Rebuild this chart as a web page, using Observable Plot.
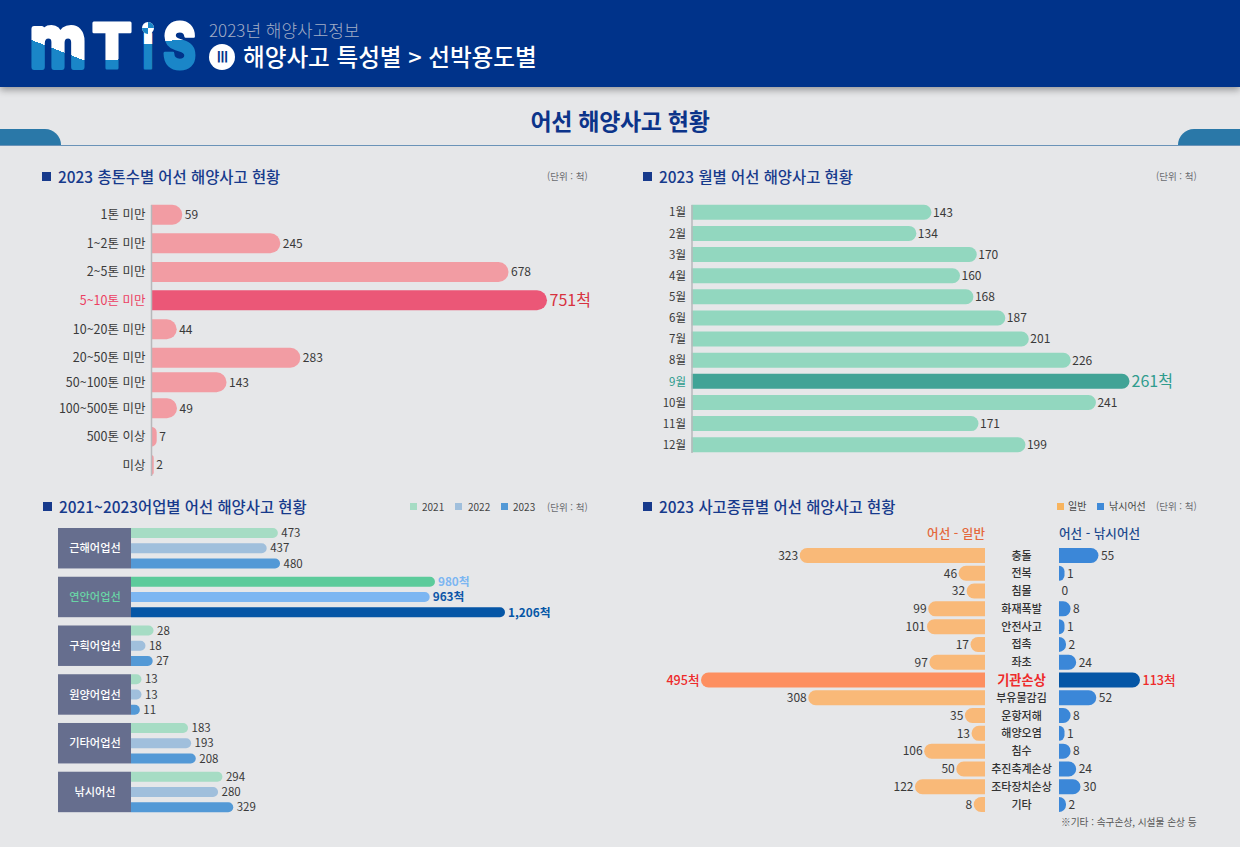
<!DOCTYPE html>
<html lang="ko"><head><meta charset="utf-8">
<script src="https://cdn.jsdelivr.net/npm/d3@7"></script>
<script src="https://cdn.jsdelivr.net/npm/@observablehq/plot@0.6"></script>
<style>
html,body{margin:0;padding:0;background:#e6e7e9;}
body{width:1240px;height:847px;position:relative;overflow:hidden;font-family:"Noto Sans CJK KR","Noto Sans",sans-serif;}
.abs{position:absolute;white-space:nowrap;}
#hdr{position:absolute;left:0;top:0;width:1240px;height:87px;background:#00338a;box-shadow:0 3px 7px rgba(0,0,0,.35);}
.sec{position:absolute;font-size:15.4px;font-weight:500;color:#173a8c;white-space:nowrap;line-height:20px;}
.sq{position:absolute;width:9px;height:9px;background:#173a8c;}
.unit{position:absolute;font-size:9.5px;color:#6a6c70;white-space:nowrap;line-height:14px;}
.lg{position:absolute;font-size:10px;color:#444;white-space:nowrap;line-height:14px;}
.ls{position:absolute;width:7px;height:7px;}
.plotbox{position:absolute;}
.plotbox svg{display:block;overflow:visible;}
</style></head><body>
<div id="hdr"></div>
<svg class="abs" style="left:0;top:0" width="208" height="87" id="logo"></svg>
<div class="abs" style="left:209px;top:19px;font-size:17px;font-weight:300;color:#a3aec6;line-height:22px">2023년 해양사고정보</div>
<div class="abs" style="left:209px;top:44px;width:26px;height:26px;border-radius:50%;background:#fff;color:#00338a;font-size:15px;font-weight:900;text-align:center;line-height:26px;font-family:'Liberation Serif',serif">Ⅲ</div>
<div class="abs" style="left:243px;top:40px;font-size:23.6px;font-weight:500;color:#fff;line-height:32px">해양사고 특성별 &gt; 선박용도별</div>
<div class="abs" style="left:0;width:1240px;top:103px;text-align:center;font-size:23px;font-weight:700;color:#0c348a;line-height:34px;letter-spacing:-.3px">어선 해양사고 현황</div>
<div class="abs" style="left:0;top:129px;width:61px;height:16px;background:#2a78a8;border-top-right-radius:16px 16px;"></div>
<div class="abs" style="left:1178px;top:129px;width:62px;height:16px;background:#2a78a8;border-top-left-radius:16px 16px;"></div>
<div class="abs" style="left:0;top:145px;width:1240px;height:1px;background:#6a93b8;"></div>

<div class="sq" style="left:42px;top:172px"></div><div class="sec" style="left:58px;top:166px">2023 총톤수별 어선 해양사고 현황</div><div class="unit" style="left:547px;top:169px">(단위 : 척)</div>
<div class="sq" style="left:643px;top:172px"></div><div class="sec" style="left:659px;top:166px">2023 월별 어선 해양사고 현황</div><div class="unit" style="left:1156px;top:169px">(단위 : 척)</div>
<div class="sq" style="left:43px;top:502px"></div><div class="sec" style="left:59px;top:495.5px">2021~2023어업별 어선 해양사고 현황</div>
<div class="ls" style="left:410px;top:503px;background:#a6dcc4"></div><div class="lg" style="left:422px;top:500px">2021</div>
<div class="ls" style="left:455px;top:503px;background:#a0bfdc"></div><div class="lg" style="left:468px;top:500px">2022</div>
<div class="ls" style="left:501px;top:503px;background:#5399d6"></div><div class="lg" style="left:513px;top:500px">2023</div>
<div class="unit" style="left:547px;top:500px">(단위 : 척)</div>
<div class="sq" style="left:643px;top:502px"></div><div class="sec" style="left:659px;top:495.5px">2023 사고종류별 어선 해양사고 현황</div>
<div class="ls" style="left:1057px;top:503px;background:#f8b45e"></div><div class="lg" style="left:1068px;top:499px">일반</div>
<div class="ls" style="left:1097px;top:503px;background:#3f8ad8"></div><div class="lg" style="left:1109px;top:499px">낚시어선</div>
<div class="unit" style="left:1156px;top:499px">(단위 : 척)</div>
<div class="abs" style="right:255px;top:524px;font-size:12.6px;font-weight:500;color:#e4683c;line-height:18px">어선 - 일반</div>
<div class="abs" style="left:1059px;top:524px;font-size:12.6px;font-weight:500;color:#1c4a8e;line-height:18px">어선 - 낚시어선</div>
<div class="abs" style="left:1061px;top:815px;font-size:9.7px;color:#555;line-height:14px">※기타 : 속구손상, 시설물 손상 등</div>

<script>
const tonnageLabels=["1톤 미만","1~2톤 미만","2~5톤 미만","5~10톤 미만","10~20톤 미만","20~50톤 미만","50~100톤 미만","100~500톤 미만","500톤 이상","미상"];
const tonnageValues=[59,245,678,751,44,283,143,49,7,2];
const monthLabels=["1월","2월","3월","4월","5월","6월","7월","8월","9월","10월","11월","12월"];
const monthValues=[143,134,170,160,168,187,201,226,261,241,171,199];
const fisheryLabels=["근해어업선","연안어업선","구획어업선","원양어업선","기타어업선","낚시어선"];
const years=["2021","2022","2023"];
const fishery2021=[473,980,28,13,183,294];
const fishery2022=[437,963,18,13,193,280];
const fishery2023=[480,1206,27,11,208,329];
const accidentLabels=["충돌","전복","침몰","화재폭발","안전사고","접촉","좌초","기관손상","부유물감김","운항저해","해양오염","침수","추진축계손상","조타장치손상","기타"];
const accidentGeneral=[323,46,32,99,101,17,97,495,308,35,13,106,50,122,8];
const accidentFishing=[55,1,0,8,1,2,24,113,52,8,1,8,24,30,2];

const FONT='"Noto Sans CJK KR","Noto Sans",sans-serif';
const AX="#b7b8bb", TXT="#3a3a3a";
function place(p,l,t){const d=document.createElement("div");d.className="plotbox";d.style.left=l+"px";d.style.top=t+"px";d.appendChild(p);document.body.appendChild(d);}
const base=(w,h)=>({width:w,height:h,marginTop:0,marginBottom:0,marginLeft:0,marginRight:0,style:{background:"transparent",fontFamily:FONT,fontSize:"12px",overflow:"visible"}});

// Logo
(function(){
 const svg=d3.select("#logo");const defs=svg.append("defs");
 const W="#ffffff",B="#1a86c8";
 function letter(id,ch,x,y,fs,len,g,sw,wt){
  const lg=defs.append("linearGradient").attr("id",id).attr("gradientUnits","userSpaceOnUse").attr("x1",g[0]).attr("y1",g[1]).attr("x2",g[2]).attr("y2",g[3]);
  lg.append("stop").attr("offset",0).attr("stop-color",W);lg.append("stop").attr("offset",0).attr("stop-color",B);
  svg.append("text").text(ch).attr("x",x).attr("y",y).attr("font-family","Inter").attr("font-weight",wt).attr("font-size",fs)
   .attr("textLength",len).attr("lengthAdjust","spacingAndGlyphs").attr("fill",`url(#${id})`).attr("stroke",`url(#${id})`).attr("stroke-width",sw).attr("stroke-linejoin","round");
 }
 letter("lm","m",30,67,69,56,[60,51,48,82],6,600);
 letter("lt","T",92,68,62,40,[110,60,112,90],3,800);
 letter("li","I",143,68,47,10,[145,44,145,90],3,800);
 letter("ls","S",163,68,62,33,[178,40,182,90],3,800);
 svg.append("circle").attr("cx",148).attr("cy",28).attr("r",6).attr("fill","#fff");
 svg.append("path").attr("d","M148 22A6 6 0 0 1 154 28L148 28Z M148 28L148 34A6 6 0 0 1 142 28Z").attr("fill",B);
})();

// Chart 1: tonnage. Rows follow a regular band; rowShift nudges rows that sit off it in the source.
// The source draws its smallest bars wider than proportional, hence the piecewise x scale.
(function(){
 const rowShift=[0,.8,1.7,2.2,3.4,4,.8,-1,-.4,.1];
 const hi="5~10톤 미만";
 const rowMarks=tonnageLabels.flatMap((k,i)=>{
  const d=[{k,v:tonnageValues[i]}],h=k===hi,dy=rowShift[i];
  return [
   Plot.barX(d,{x:"v",y:"k",dy,fill:h?"#eb5777":"#f29ca3",rx2:10}),
   Plot.text(d,{x:0,y:"k",dy,text:"k",textAnchor:"end",dx:-6,fill:h?"#ec3f62":TXT,fontSize:12.5}),
   Plot.text(d,{x:"v",y:"k",dy,text:h?(e=>e.v+"척"):"v",textAnchor:"start",dx:2,fill:h?"#d8323f":TXT,fontSize:h?16:12}),
  ];
 });
 place(Plot.plot({...base(560,290),
  x:{type:"linear",domain:[0,2,7,44,49,751],range:[111,113.7,116.7,136.7,137,507],axis:null},
  y:{domain:tonnageLabels,range:[9.7,279.9],paddingInner:.2806,paddingOuter:0,round:false,axis:null},
  marks:[...rowMarks,Plot.ruleX([0],{stroke:AX,strokeWidth:1.5,insetTop:10,insetBottom:9})]}),40,195);
})();

// Chart 2: months
(function(){
 const data=monthLabels.map((k,i)=>({k,v:monthValues[i]}));
 const hi="9월", isHi=d=>d.k===hi, no=d=>d.k!==hi;
 place(Plot.plot({...base(560,270),
  x:{domain:[0,261],range:[41.5,479.5],axis:null},
  y:{domain:monthLabels,range:[9.8,257.2],paddingInner:.29,paddingOuter:0,round:false,axis:null},
  marks:[
   Plot.barX(data.filter(no),{x:"v",y:"k",fill:"#92d7bf",rx2:7.5}),
   Plot.barX(data.filter(isHi),{x:"v",y:"k",fill:"#41a396",rx2:7.5}),
   Plot.ruleX([0],{stroke:AX,strokeWidth:1.5,insetTop:10,insetBottom:12}),
   Plot.text(data.filter(no),{x:0,y:"k",text:"k",textAnchor:"end",dx:-6,fill:TXT,fontSize:11.5}),
   Plot.text(data.filter(isHi),{x:0,y:"k",text:"k",textAnchor:"end",dx:-6,fill:"#2f9c8e",fontSize:11.5}),
   Plot.text(data.filter(no),{x:"v",y:"k",text:"v",textAnchor:"start",dx:1,fill:TXT,fontSize:12}),
   Plot.text(data.filter(isHi),{x:"v",y:"k",text:d=>d.v+"척",textAnchor:"start",dx:1.5,fill:"#2f9c8e",fontSize:16}),
  ]}),650,195);
})();

// Chart 3: fishery by year
(function(){
 const series={"2021":fishery2021,"2022":fishery2022,"2023":fishery2023};
 const normal={"2021":"#a6dcc4","2022":"#a0bfdc","2023":"#5399d6"};
 const strong={"2021":"#5ccb9b","2022":"#7cb6f2","2023":"#0556a6"};
 const strongText={"2021":"#7cb6f2","2022":"#0c56a8","2023":"#0556a6"};
 const hi="연안어업선";
 const data=fisheryLabels.flatMap((g,i)=>years.map(y=>({g,y,v:series[y][i]})));
 const isHi=d=>d.g===hi,no=d=>d.g!==hi;
 const boxStart=-235;
 const barMarks=years.flatMap(y=>[
   Plot.barX(data.filter(d=>d.y===y&&no(d)),{x:"v",y:"y",fy:"g",fill:normal[y],rx2:5}),
   Plot.barX(data.filter(d=>d.y===y&&isHi(d)),{x:"v",y:"y",fy:"g",fill:strong[y],rx2:5}),
   Plot.text(data.filter(d=>d.y===y&&isHi(d)),{x:"v",y:"y",fy:"g",text:d=>d3.format(",")(d.v)+"척",textAnchor:"start",dx:2.5,fill:strongText[y],fontSize:11.8,fontWeight:700}),
 ]);
 place(Plot.plot({...base(540,284.2),
  x:{type:"linear",domain:[boxStart,0,28,183,1206],range:[0,73,95.5,130,447],axis:null},
  y:{domain:years,paddingInner:.35,paddingOuter:0,round:false,axis:null},
  fy:{domain:fisheryLabels,paddingInner:.17,paddingOuter:0,round:false,axis:null},
  marks:[
   Plot.barX(fisheryLabels.map(g=>({g})),{x1:boxStart,x2:0,fy:"g",fill:"#666e8e"}),
   Plot.text(fisheryLabels.filter(g=>g!==hi).map(g=>({g})),{x:boxStart/2,fy:"g",frameAnchor:"middle",text:"g",fill:"#fff",fontSize:11.2,fontWeight:500}),
   Plot.text([{g:hi}],{x:boxStart/2,fy:"g",frameAnchor:"middle",text:"g",fill:"#69d4a6",fontSize:11.2,fontWeight:500}),
   ...barMarks,
   Plot.text(data.filter(no),{x:"v",y:"y",fy:"g",text:"v",textAnchor:"start",dx:3,fill:TXT,fontSize:11.5}),
  ]}),58,528);
})();

// Chart 4: accidents by type
(function(){
 const hi="기관손상";
 const gen=accidentLabels.map((k,i)=>({k,v:accidentGeneral[i]}));
 const fis=accidentLabels.map((k,i)=>({k,v:accidentFishing[i]}));
 const isHi=d=>d.k===hi,no=d=>d.k!==hi;
 const yScale={domain:accidentLabels,range:[0,264],paddingInner:.157,paddingOuter:0,round:false,axis:null};
 const labelPos=-20;
 place(Plot.plot({...base(419,264),
  x:{type:"linear",domain:[495,32,17,13,8,0,labelPos],range:[61,326.6,330.5,331.5,333.7,345,381],axis:null},y:yScale,
  marks:[
   Plot.barX(gen.filter(no),{x:"v",y:"k",fill:"#f9b978",rx1:7.5}),
   Plot.barX(gen.filter(isHi),{x:"v",y:"k",fill:"#fd8f60",rx1:7.5}),
   Plot.text(gen.filter(no),{x:"v",y:"k",text:"v",textAnchor:"end",dx:-2,fill:TXT,fontSize:12}),
   Plot.text(gen.filter(isHi),{x:"v",y:"k",text:d=>d.v+"척",textAnchor:"end",dx:-2,fill:"#ee2b2b",fontSize:12.6,fontWeight:500}),
   Plot.text(gen.filter(no),{x:labelPos,y:"k",text:"k",fill:"#333",fontSize:11,fontWeight:500}),
   Plot.text(gen.filter(isHi),{x:labelPos,y:"k",text:"k",fill:"#ee2b2b",fontSize:13.2,fontWeight:700}),
  ]}),640,548.2);
 place(Plot.plot({...base(141,264),
  x:{type:"linear",domain:[0,1,2,8,24,113],range:[0,5.5,7,11.6,17.2,81],axis:null},y:yScale,
  marks:[
   Plot.barX(fis.filter(no),{x:"v",y:"k",fill:"#3b87d8",rx2:7.5}),
   Plot.barX(fis.filter(isHi),{x:"v",y:"k",fill:"#0556a6",rx2:7.5}),
   Plot.ruleX(fis.filter(d=>d.v===0),{x:"v",y:"k",stroke:"#8fb6e2",strokeWidth:1}),
   Plot.text(fis.filter(no),{x:"v",y:"k",text:"v",textAnchor:"start",dx:2,fill:TXT,fontSize:12}),
   Plot.text(fis.filter(isHi),{x:"v",y:"k",text:d=>d.v+"척",textAnchor:"start",dx:2,fill:"#ee2b2b",fontSize:12.6,fontWeight:500}),
  ]}),1059,548.2);
})();
</script>
</body></html>
